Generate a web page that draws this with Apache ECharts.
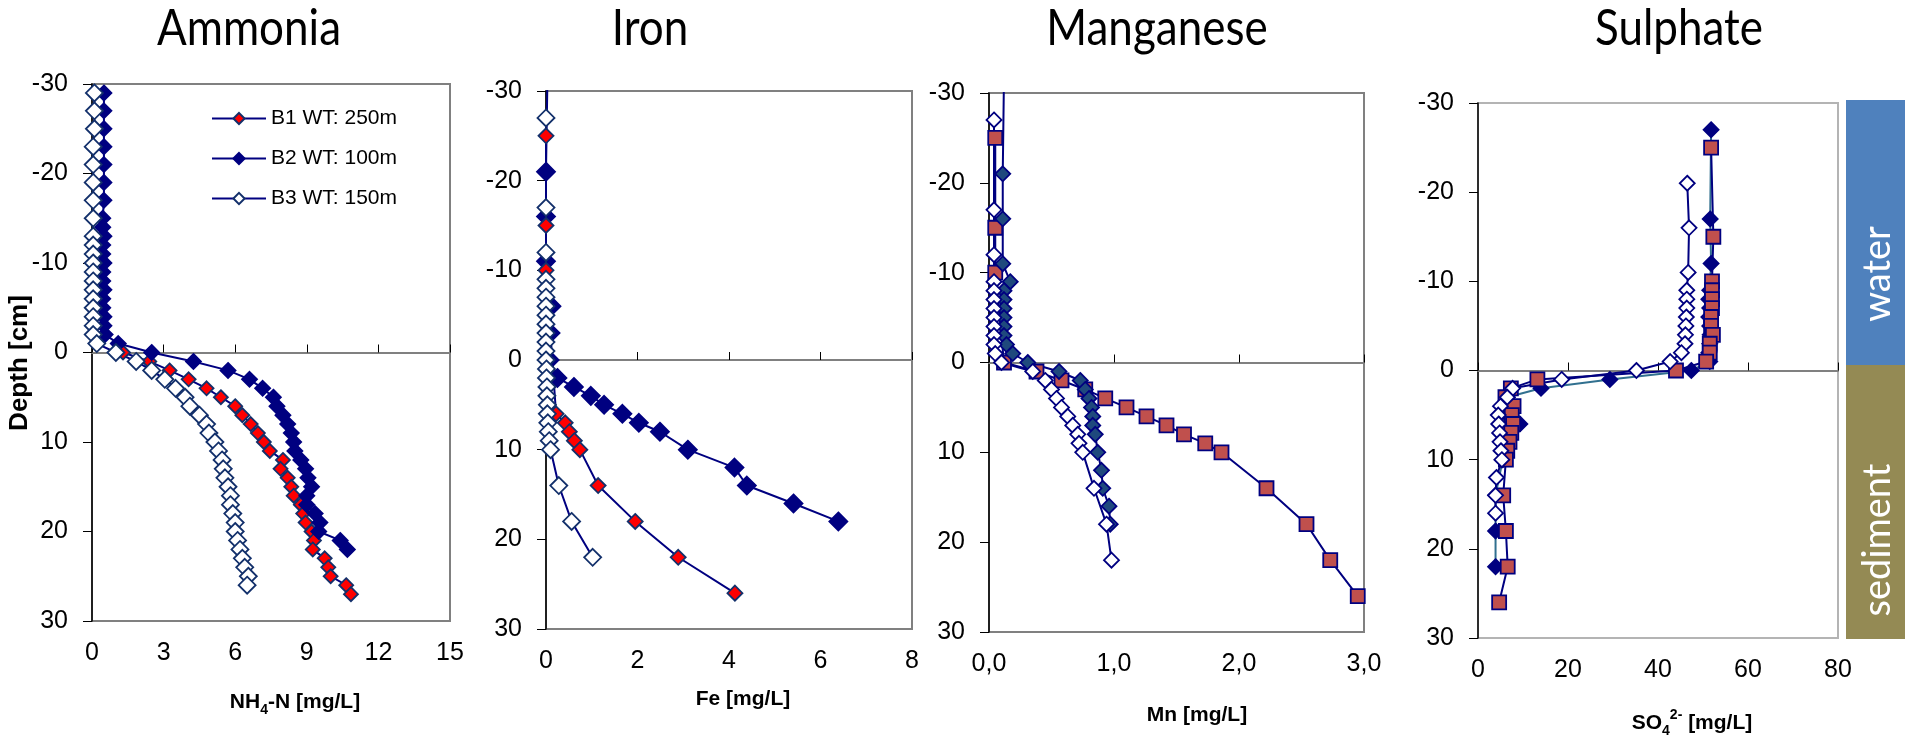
<!DOCTYPE html>
<html><head><meta charset="utf-8">
<script src="https://cdn.jsdelivr.net/npm/echarts@6/dist/echarts.min.js"></script>
<style>html,body{margin:0;padding:0;background:#fff}#c{width:1905px;height:737px}</style>
</head><body><div id="c"></div>
<script>
const seriesNames = ['B1 WT: 250m', 'B2 WT: 100m', 'B3 WT: 150m'];
const panelTitles = ['Ammonia', 'Iron', 'Manganese', 'Sulphate'];
const depthTicks = ['-30', '-20', '-10', '0', '10', '20', '30'];

// ---- Ammonia (NH4-N mg/L) ----
const nh4Ticks = ['0', '3', '6', '9', '12', '15'];
const nh4DepthB1 = [0,1,2,3,4,5,6,7,8,9,10,11,12,13,14,15,16,17,18,19,20,21,22,23,24,25,26,27];
const nh4B1 = [1.3,2.4,3.25,4.05,4.8,5.4,6.0,6.3,6.65,6.95,7.2,7.45,8.0,7.9,8.2,8.35,8.45,8.75,8.85,8.95,9.2,9.3,9.25,9.75,9.9,10.0,10.65,10.85];
const nh4DepthB2 = [-29,-27,-25,-23,-21,-19,-17,-15,-14,-13,-12,-11,-10,-9,-8,-7,-6,-5,-4,-3,-2,-1,0,1,2,3,4,5,6,7,8,9,10,11,12,13,14,15,16,17,18,19,20,21,22];
const nh4B2 = [0.5,0.5,0.5,0.5,0.5,0.5,0.5,0.45,0.45,0.5,0.45,0.45,0.5,0.45,0.45,0.5,0.45,0.45,0.5,0.5,0.55,1.1,2.5,4.25,5.7,6.6,7.15,7.6,7.75,8.0,8.2,8.35,8.45,8.5,8.75,8.95,9.05,9.2,9.0,9.0,9.35,9.55,9.5,10.4,10.7];
const nh4DepthB3 = [-29,-27,-25,-23,-21,-19,-17,-15,-13,-12,-11,-10,-9,-8,-7,-6,-5,-4,-3,-2,-1,0,1,2,3,4,5,6,7,8,9,10,11,12,13,14,15,16,17,18,19,20,21,22,23,24,25,26];
const nh4B3 = [0.1,0.1,0.1,0.05,0.05,0.05,0.05,0.05,0.05,0.05,0.05,0.05,0.05,0.05,0.05,0.05,0.05,0.05,0.05,0.05,0.2,1.0,1.85,2.5,3.05,3.5,3.9,4.1,4.5,4.8,4.9,5.15,5.3,5.45,5.5,5.57,5.7,5.8,5.8,5.9,6.0,6.0,6.1,6.2,6.3,6.4,6.55,6.5];

// ---- Iron (Fe mg/L) ----
const feTicks = ['0', '2', '4', '6', '8'];
const feDepthB1 = [-25,-15,-10,6,7,8,9,10,14,18,22,26];
const feB1 = [0,0,0,0.22,0.42,0.51,0.62,0.74,1.14,1.95,2.89,4.13];
const feDepthB2 = [-31,-21,-16,-11,-6,-3,0,2,3,4,5,6,7,8,10,12,14,16,18];
const feB2 = [0.03,0,0,0,0.12,0.1,0.08,0.25,0.61,0.98,1.27,1.67,2.03,2.49,3.1,4.12,4.39,5.41,6.39];
const feDepthB3 = [-27,-17,-12,-9,-8,-7,-6,-5,-4,-3,-2,-1,0,1,2,3,4,5,6,7,8,9,10,14,18,22];
const feB3 = [0,0,0,0,0,0,0,0,0,0,0,0,0,0.01,0.01,0.02,0.02,0.03,0.03,0.04,0.05,0.07,0.1,0.28,0.56,1.02];

// ---- Manganese (Mn mg/L) ----
const mnTicks = ['0,0', '1,0', '2,0', '3,0'];
const mnDepthB1 = [-25,-15,-10,0,1,2,3,4,5,6,7,8,9,10,14,18,22,26];
const mnB1 = [0.05,0.05,0.05,0.12,0.38,0.58,0.77,0.93,1.1,1.26,1.42,1.56,1.73,1.86,2.22,2.54,2.73,2.95];
const mnDepthB2 = [-32,-21,-16,-11,-9,-8,-7,-6,-5,-4,-3,-2,-1,0,1,2,3,4,5,6,7,8,10,12,14,16,18];
const mnB2 = [0.12,0.11,0.11,0.11,0.17,0.12,0.12,0.12,0.12,0.12,0.12,0.14,0.19,0.31,0.56,0.73,0.77,0.8,0.82,0.83,0.83,0.85,0.87,0.9,0.91,0.96,0.97];
const mnDepthB3 = [-27,-17,-12,-9,-8,-7,-6,-5,-4,-3,-2,-1,0,1,2,3,4,5,6,7,8,9,10,14,18,22];
const mnB3 = [0.04,0.04,0.04,0.04,0.04,0.04,0.04,0.04,0.04,0.04,0.04,0.05,0.1,0.35,0.45,0.5,0.54,0.58,0.63,0.67,0.71,0.72,0.75,0.84,0.94,0.98];

// ---- Sulphate (SO4 2- mg/L) ----
const so4Ticks = ['0', '20', '40', '60', '80'];
const so4DepthB1 = [-25,-15,-10,-9,-8,-7,-6,-5,-4,-3,-2,-1,0,1,2,3,4,5,6,7,8,9,10,14,18,22,26];
const so4B1 = [51.8,52.3,52,52,52,52,51.8,51.8,52.2,51.5,51.5,50.7,44,13.2,7.3,6.1,7.9,7.5,7.8,7.4,7,6.5,6.2,5.6,6.2,6.6,4.7];
const so4DepthB2 = [-27,-17,-12,-9,-8,-7,-6,-5,-4,-3,-2,-1,0,1,2,3,4,5,6,7,8,9,10,14,18,22];
const so4B2 = [51.8,51.6,51.8,51.5,51.3,51.5,51.3,51.5,51.6,51.5,51.3,51.5,47.4,29.3,14,6.5,6,6.5,9.3,7,6,6,5.5,3.9,3.9,3.9];
const so4DepthB3 = [-21,-16,-11,-9,-8,-7,-6,-5,-4,-3,-2,-1,0,1,2,3,4,5,6,7,8,9,10,12,14,16];
const so4B3 = [46.5,46.9,46.7,46.4,46.4,46.4,46.3,46.2,46.1,46,45.2,42.7,35.2,18.6,7.7,6.5,5,4.5,4.6,4.8,4.9,5.1,5.3,4.1,3.9,3.9];

const FONT = 'Liberation Sans, Arial, sans-serif';
const NAVY = '#000080';
const DARK = '#13306b';

const grids = [
  {left: 92, top: 84, width: 358, height: 537, borderColor: '#808080'},
  {left: 546, top: 91, width: 366, height: 538, borderColor: '#808080'},
  {left: 989, top: 93, width: 375, height: 539, borderColor: '#808080'},
  {left: 1478, top: 103, width: 360, height: 535, borderColor: '#b4b4b4'}
];
const tickSets = [nh4Ticks, feTicks, mnTicks, so4Ticks];

const xAxes = [], yAxes = [];
tickSets.forEach((ticks, i) => {
  const nums = ticks.map(t => parseFloat(t.replace(',', '.')));
  const min = nums[0], max = nums[nums.length - 1], interval = nums[1] - nums[0];
  xAxes.push({
    type: 'value', gridIndex: i, min, max, interval, position: 'bottom',
    axisLine: {show: false, onZero: false}, axisTick: {show: false}, splitLine: {show: false},
    axisLabel: {fontSize: 25, fontFamily: FONT, color: '#000', margin: 20,
      formatter: (v, idx) => ticks[idx] !== undefined ? ticks[idx] : ''}
  });
  xAxes.push({
    type: 'value', gridIndex: i, min, max, interval, position: 'bottom',
    axisLine: {show: true, onZero: true, lineStyle: {color: '#808080', width: 2}},
    axisTick: {show: true, inside: true, length: 8, lineStyle: {color: '#000', width: 1}},
    axisLabel: {show: false}, splitLine: {show: false}
  });
  yAxes.push({
    type: 'value', gridIndex: i, inverse: true, min: -30, max: 30, interval: 10,
    axisLine: {show: true, onZero: false, lineStyle: {color: '#000', width: 1.5}},
    axisTick: {show: true, length: 9, lineStyle: {color: '#000', width: 1}},
    splitLine: {show: false},
    axisLabel: {fontSize: 25, fontFamily: FONT, color: '#000', margin: 24,
      formatter: (v, idx) => depthTicks[idx]}
  });
});

function mk(name, gi, depths, vals, sym, size, fill, border, lineColor) {
  return {
    name, type: 'line', xAxisIndex: 2 * gi, yAxisIndex: gi,
    data: depths.map((d, k) => [vals[k], d]),
    symbol: sym, symbolSize: size, showSymbol: true, showAllSymbol: true, clip: true,
    lineStyle: {color: lineColor || NAVY, width: 2},
    itemStyle: {color: fill, borderColor: border, borderWidth: 1.8},
    emphasis: {disabled: true}, animation: false
  };
}

const series = [
  // Ammonia
  mk(seriesNames[0], 0, nh4DepthB1, nh4B1, 'diamond', 14, '#ff0000', DARK),
  mk(seriesNames[1], 0, nh4DepthB2, nh4B2, 'diamond', 15, NAVY, NAVY),
  mk(seriesNames[2], 0, nh4DepthB3, nh4B3, 'diamond', 17, '#ffffff', DARK),
  // Iron
  mk(seriesNames[1], 1, feDepthB2, feB2, 'diamond', 18, NAVY, NAVY),
  mk(seriesNames[0], 1, feDepthB1, feB1, 'diamond', 15, '#ff0000', DARK),
  mk(seriesNames[2], 1, feDepthB3, feB3, 'diamond', 17, '#ffffff', DARK),
  // Manganese
  mk(seriesNames[0], 2, mnDepthB1, mnB1, 'rect', 14, '#c0504d', NAVY),
  mk(seriesNames[1], 2, mnDepthB2, mnB2, 'diamond', 15, '#1f497d', NAVY),
  mk(seriesNames[2], 2, mnDepthB3, mnB3, 'diamond', 15, '#ffffff', NAVY),
  // Sulphate
  mk(seriesNames[1], 3, so4DepthB2, so4B2, 'diamond', 15, NAVY, NAVY, '#31708f'),
  mk(seriesNames[0], 3, so4DepthB1, so4B1, 'rect', 14, '#c0504d', NAVY),
  mk(seriesNames[2], 3, so4DepthB3, so4B3, 'diamond', 15, '#ffffff', NAVY)
];

const titleX = [249, 650, 1157, 1679];
const graphic = [];
panelTitles.forEach((t, i) => {
  graphic.push({type: 'text', x: titleX[i], y: 29, scaleY: 1.15, silent: true,
    style: {text: t, font: '44px Lato', fill: '#000', textAlign: 'center', textVerticalAlign: 'middle', align: 'center', verticalAlign: 'middle'}});
});
const richBase = {
  b: {fontFamily: FONT, fontWeight: 'bold', fontSize: 21, lineHeight: 30, verticalAlign: 'middle', fill: '#000'},
  s: {fontFamily: FONT, fontWeight: 'bold', fontSize: 14, lineHeight: 14, verticalAlign: 'bottom', fill: '#000'},
  p: {fontFamily: FONT, fontWeight: 'bold', fontSize: 14, lineHeight: 14, verticalAlign: 'top', fill: '#000'}
};
const axisTitles = [
  {text: '{b|NH}{s|4}{b|-N [mg/L]}', x: 295, y: 702},
  {text: '{b|Fe [mg/L]}', x: 743, y: 699},
  {text: '{b|Mn [mg/L]}', x: 1197, y: 715},
  {text: '{b|SO}{s|4}{p|2-}{b| [mg/L]}', x: 1692, y: 723}
];
axisTitles.forEach(a => {
  graphic.push({type: 'text', x: a.x, y: a.y, silent: true,
    style: {text: a.text, rich: richBase, textAlign: 'center', textVerticalAlign: 'middle', align: 'center', verticalAlign: 'middle'}});
});
graphic.push({type: 'text', x: 20, y: 363, rotation: Math.PI / 2, silent: true,
  style: {text: 'Depth [cm]', font: 'bold 26px ' + FONT, fill: '#000', textAlign: 'center', textVerticalAlign: 'middle', align: 'center', verticalAlign: 'middle'}});
graphic.push({type: 'rect', shape: {x: 1846, y: 100, width: 59, height: 265}, style: {fill: '#4f81bd'}, silent: true});
graphic.push({type: 'rect', shape: {x: 1846, y: 365, width: 59, height: 274}, style: {fill: '#948a54'}, silent: true});
graphic.push({type: 'text', x: 1878, y: 274, rotation: Math.PI / 2, silent: true,
  style: {text: 'water', font: '38px Lato', fill: '#fff', textAlign: 'center', textVerticalAlign: 'middle', align: 'center', verticalAlign: 'middle'}});
graphic.push({type: 'text', x: 1878, y: 540, rotation: Math.PI / 2, silent: true,
  style: {text: 'sediment', font: '38px Lato', fill: '#fff', textAlign: 'center', textVerticalAlign: 'middle', align: 'center', verticalAlign: 'middle'}});

const chart = echarts.init(document.getElementById('c'), null, {renderer: 'canvas'});
chart.setOption({
  animation: false,
  backgroundColor: '#fff',
  grid: grids.map(g => ({left: g.left, top: g.top, width: g.width, height: g.height, show: true,
    borderColor: g.borderColor, borderWidth: 2, backgroundColor: 'transparent', containLabel: false})),
  xAxis: xAxes,
  yAxis: yAxes,
  legend: {
    data: seriesNames, orient: 'vertical', left: 206, top: 103,
    itemWidth: 54, itemHeight: 14, itemGap: 19, selectedMode: false,
    textStyle: {fontSize: 21, fontFamily: FONT, color: '#000'}
  },
  tooltip: {show: false},
  series,
  graphic
});
</script>
</body></html>
